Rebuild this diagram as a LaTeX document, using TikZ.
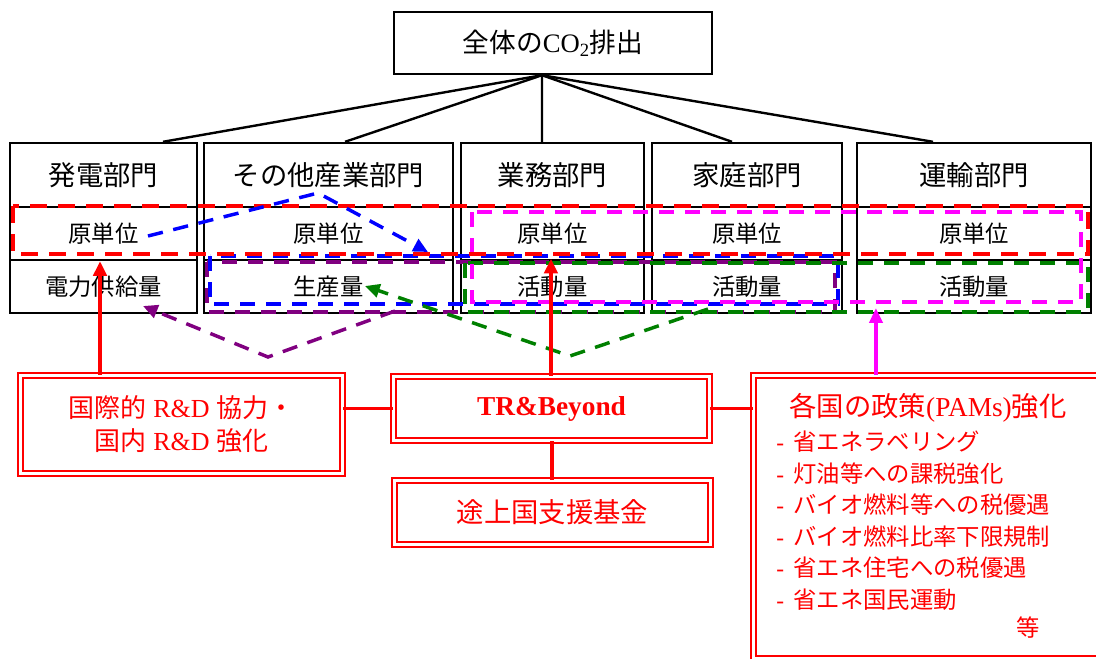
\documentclass[tikz,border=0pt]{standalone}
\usepackage{fontspec}
\setmainfont{Liberation Serif}
\newfontfamily\cjk{Noto Sans CJK JP}
\usetikzlibrary{arrows.meta}
\definecolor{rd}{RGB}{255,0,0}
\definecolor{mg}{RGB}{255,0,255}
\definecolor{bl}{RGB}{0,0,255}
\definecolor{pu}{RGB}{128,0,128}
\definecolor{gr}{RGB}{0,128,0}
\tikzset{
  topbox/.style={draw=black, line width=1.8pt, inner sep=0pt, minimum width=238.5pt, minimum height=46.5pt},
  hcell/.style={draw=black, line width=1.8pt, inner sep=0pt, minimum height=48pt, font=\cjk\fontsize{20.5}{24}\selectfont},
  rcell/.style={draw=black, line width=1.8pt, inner sep=0pt, minimum height=39.75pt, font=\cjk\fontsize{17.5}{20}\selectfont},
  conn/.style={draw=black, line width=1.8pt},
  dbl/.style={draw=rd, line width=1.4pt, double=white, double distance=2.3pt, inner sep=0pt, text=rd},
  grp/.style={line width=2.6pt, dash pattern=on 11.5pt off 8pt},
  tipa/.style={-{Triangle[length=11pt,width=10pt]}},
  itemtxt/.style={text=rd, anchor=west, inner sep=0pt, font=\fontsize{17.5}{20}\selectfont},
}
\begin{document}
\begin{tikzpicture}[x=0.75pt,y=-0.75pt]
\path[use as bounding box, clip] (0,0) rectangle (1096,658);

% top box
\node[topbox] (top) at (553,43) {{\cjk\fontsize{20}{24}\selectfont 全体の}{\fontsize{20}{24}\selectfont CO\textsubscript{2}}{\cjk\fontsize{20}{24}\selectfont 排出}};

% sector boxes
\foreach \n/\cx/\w/\hd/\bt in {1/103.5/187/発電部門/電力供給量, 2/328.5/249/その他産業部門/生産量, 3/552.5/183/業務部門/活動量, 4/747/190/家庭部門/活動量, 5/974/234/運輸部門/活動量}{
  \node[hcell, minimum width=\w*0.75pt] (h\n) at (\cx,175) {\hd};
  \node[rcell, minimum width=\w*0.75pt] (a\n) at (\cx,233.5) {原単位};
  \node[rcell, minimum width=\w*0.75pt] (b\n) at (\cx,286.5) {\bt};
}

% tree connectors
\coordinate (hub) at ([xshift=-8.25pt]top.south);
\draw[conn] (hub) -- ([xshift=44.6pt]h1.north);
\draw[conn] (hub) -- ([xshift=12.4pt]h2.north);
\draw[conn] (hub) -- ([xshift=-7.9pt]h3.north);
\draw[conn] (hub) -- ([xshift=-11.25pt]h4.north);
\draw[conn] (hub) -- ([xshift=-30.75pt]h5.north);

% group rectangles
\draw[grp, pu] (207,262) rectangle (835,312);
\draw[grp, bl] (210,256) rectangle (838,304);
\draw[grp, gr] (465,263) rectangle (1088,312);
\draw[grp, mg] (472,212) rectangle (1081,302);
\draw[grp, rd, line width=3.3pt, dash pattern=on 12.5pt off 8.5pt] (13,206) rectangle (1088,254);

% dashed arrows
\coordinate (bs) at (148,236);
\coordinate (bm) at (318,193);
\coordinate (be) at (428,252);
\draw[grp, bl, tipa] (bs) -- (bm) -- (be);
\coordinate (ps) at (395,311);
\coordinate (pm) at (268,357);
\coordinate (pe) at (143,306);
\draw[grp, pu, tipa] (ps) -- (pm) -- (pe);
\coordinate (gs) at (708,309);
\coordinate (gm) at (570,356);
\coordinate (ge) at (365,286);
\draw[grp, gr, tipa] (gs) -- (gm) -- (ge);

% red boxes
\node[dbl, minimum width=241.5pt, minimum height=73.5pt, align=center,
  font=\fontsize{19.5}{24.75}\selectfont] (rdb) at (181.5,424.5)
  {{\cjk 国際的} R\&D {\cjk 協力・}\\{\cjk 国内} R\&D {\cjk 強化}};
\node[dbl, minimum width=237pt, minimum height=48pt,
  font=\bfseries\fontsize{20.5}{24}\selectfont] (tr) at (551.5,408.5) {TR\&Beyond};
\node[dbl, minimum width=237pt, minimum height=48pt,
  font=\cjk\fontsize{20.5}{24}\selectfont] (fund) at (552.5,512.5) {途上国支援基金};
\node[dbl, minimum width=265.5pt, minimum height=212.25pt] (pol) at (930.5,517) {};

% policy text
\node[text=rd, inner sep=0pt, font=\fontsize{20.5}{24}\selectfont] (polt) at (928,408)
  {{\cjk 各国の政策}(PAMs){\cjk 強化}};
\foreach \i/\y/\t in {1/442/省エネラベリング, 2/473.5/灯油等への課税強化, 3/505/バイオ燃料等への税優遇, 4/536.5/バイオ燃料比率下限規制, 5/568/省エネ住宅への税優遇, 6/599.5/省エネ国民運動}{
  \node[itemtxt] (p\i) at (776,\y) {-\hspace{7pt}{\cjk \t}};
}
\node[text=rd, inner sep=0pt, font=\cjk\fontsize{17.5}{20}\selectfont] (etc) at (1028,628) {等};

% red connectors
\draw[rd, line width=2.2pt] (tr.west -| rdb.east) -- (tr.west);
\draw[rd, line width=2.2pt] (tr.east) -- (tr.east -| pol.west);
\draw[rd, line width=3pt] (tr.south) -- (tr.south |- fund.north);

% solid arrows
\draw[rd, line width=2.8pt, tipa] ([xshift=-61.1pt]rdb.north) -- ([xshift=-61.1pt]rdb.north |- a1.south);
\draw[rd, line width=2.8pt, tipa] ([xshift=-0.4pt]tr.north) -- ([xshift=-0.4pt]tr.north |- b3.north);
\draw[mg, line width=2.3pt, tipa] ([xshift=-40.9pt]pol.north) -- ([xshift=-40.9pt,yshift=4.5pt]pol.north |- b5.south);
\end{tikzpicture}
\end{document}
